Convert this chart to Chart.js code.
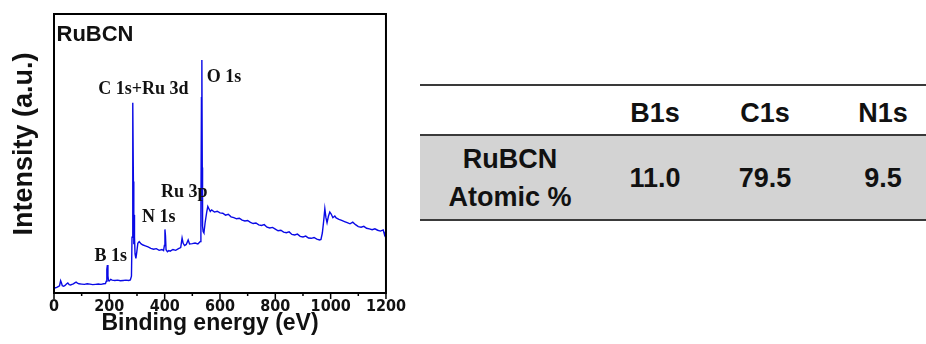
<!DOCTYPE html>
<html>
<head>
<meta charset="utf-8">
<script src="https://cdn.jsdelivr.net/npm/chart.js@4.4.0/dist/chart.umd.min.js"></script>
<style>
  html, body { margin: 0; padding: 0; background: #fff; overflow: hidden; }
  body { width: 926px; height: 344px; position: relative; }
  #plot { position: absolute; left: 0; top: 0; width: 410px; height: 344px; }
  #atomic { position: absolute; left: 420px; top: 84px; width: 526px;
    font-family: "Liberation Sans", Arial, sans-serif; font-weight: bold; font-size: 27px; color: #111; }
  #atomic .row { display: flex; }
  #atomic .head { border-top: 2px solid #3a3a3a; border-bottom: 2px solid #3a3a3a; height: 48px; }
  #atomic .body { background: #d3d3d3; border-bottom: 2px solid #3a3a3a; height: 83px; }
  #atomic .c { display: flex; align-items: center; justify-content: center; text-align: center; width: 110px; line-height: 38px; }
  #atomic .head .c { padding-top: 5px; }
  #atomic .c.first { width: 180px; }
  #atomic .c.last { width: 126px; }
</style>
</head>
<body>
<div id="plot"><canvas id="xpsChart"></canvas></div>
<div id="atomic"></div>
<script>
// survey spectrum: binding energy (eV) vs intensity (a.u.)
var energy = [0, 5, 10, 15, 20, 24, 27, 30, 35, 40, 45, 50, 55, 60, 65, 70, 75, 80, 85, 90,
  100, 110, 120, 130, 140, 150, 160, 170, 180, 186, 189, 191, 193, 195, 197, 200, 205, 210,
  220, 230, 240, 250, 260, 270, 276, 280, 282, 284, 285.5, 287, 288, 289, 290, 291, 293, 296,
  299, 303, 308, 315, 322, 330, 340, 350, 360, 370, 380, 390, 396, 399, 401, 403, 405, 410,
  415, 420, 430, 440, 450, 458, 463, 467, 472, 478, 485, 490, 500, 510, 520, 528, 531, 533,
  534.5, 536, 537, 539, 542, 546, 552, 556, 560, 565, 570, 575, 580, 590, 600, 610, 620, 630,
  640, 650, 660, 670, 680, 690, 700, 710, 720, 730, 740, 750, 760, 770, 780, 790, 800, 810,
  820, 830, 840, 850, 860, 870, 880, 890, 900, 910, 920, 930, 940, 950, 960, 965, 970, 975,
  979, 983, 987, 992, 997, 1002, 1008, 1015, 1020, 1030, 1040, 1050, 1060, 1070, 1080, 1090,
  1100, 1110, 1120, 1130, 1140, 1150, 1160, 1170, 1180, 1190, 1195, 1200];
var intensity = [1.6, 1.9, 2.0, 2.3, 2.6, 4.4, 3.6, 2.6, 2.4, 2.7, 3.2, 3.6, 3.0, 2.9, 3.1, 3.3, 3.6, 3.9, 3.5, 3.3,
  3.2, 3.1, 3.3, 3.2, 3.0, 3.1, 3.2, 3.1, 3.3, 3.4, 4.2, 8.5, 10.0, 6.2, 4.4, 4.3, 4.9, 4.6,
  4.5, 4.6, 4.4, 4.5, 4.6, 4.5, 4.7, 6.0, 20, 60, 68.2, 40, 18, 17.5, 28, 20, 14, 12.4,
  14.5, 17.8, 18.4, 17.6, 17.2, 16.9, 16.5, 16.0, 15.7, 15.9, 15.3, 15.6, 15.2, 17.0, 22.8, 20.5, 15.5, 14.8,
  15.2, 15.0, 15.6, 15.3, 15.9, 16.3, 19.7, 17.8, 17.0, 17.4, 19.0, 17.6, 17.7, 17.9, 17.6, 18.4, 28, 70,
  83.5, 45, 24, 22, 21.5, 25, 29, 31.0, 30.2, 29.2, 29.8, 29.4, 29.0, 29.3, 28.7, 28.6, 27.9, 28.2,
  27.3, 27.0, 26.6, 26.8, 26.1, 25.8, 26.0, 25.3, 24.9, 25.1, 24.4, 24.2, 24.5, 23.6, 23.3, 23.5, 22.9, 22.3,
  22.5, 21.8, 21.6, 21.9, 21.0, 20.8, 21.1, 20.3, 20.1, 20.4, 19.7, 19.6, 19.9, 19.3, 19.0, 19.2, 21.5, 26,
  30.2, 27.0, 25.2, 27.5, 29.0, 28.3, 27.0, 27.6, 26.9, 26.4, 26.0, 25.6, 25.2, 24.8, 25.4, 24.5,
  23.8, 23.6, 23.9, 23.2, 23.0, 22.7, 23.0, 22.5, 22.2, 22.6, 20.8, 22.4];

var xTicks = [0, 200, 400, 600, 800, 1000, 1200];

// atomic composition table
var elements = ['B1s', 'C1s', 'N1s'];
var atomicPct = ['11.0', '79.5', '9.5'];

// peak labels, anchored in data coordinates (left edge, baseline)
var peakLabels = [
  { text: 'RuBCN', x: 9, y: 90.3, font: 'bold 22px "Liberation Sans", Arial, sans-serif' },
  { text: 'C 1s+Ru 3d', x: 160, y: 71.3 },
  { text: 'O 1s', x: 552, y: 75.6 },
  { text: 'Ru 3p', x: 387, y: 34.4 },
  { text: 'N 1s', x: 318, y: 25.4 },
  { text: 'B 1s', x: 146, y: 11.5 }
];

var framePlugin = {
  id: 'frame',
  afterDatasetsDraw: function (chart) {
    var ctx = chart.ctx;
    var a = chart.chartArea;
    var xs = chart.scales.x;
    var ys = chart.scales.y;
    ctx.save();

    // peak labels
    ctx.fillStyle = '#111';
    ctx.textAlign = 'left';
    ctx.textBaseline = 'alphabetic';
    peakLabels.forEach(function (l) {
      ctx.font = l.font || 'bold 18px "Liberation Serif", "Times New Roman", serif';
      ctx.fillText(l.text, xs.getPixelForValue(l.x), ys.getPixelForValue(l.y));
    });

    // box
    ctx.strokeStyle = '#000';
    ctx.lineWidth = 2;
    ctx.strokeRect(a.left, a.top, a.right - a.left, a.bottom - a.top);

    // outward ticks, longer on labelled values
    ctx.lineWidth = 1.5;
    xs.ticks.forEach(function (t) {
      var px = xs.getPixelForValue(t.value);
      var len = xTicks.indexOf(t.value) >= 0 ? 6 : 3;
      ctx.beginPath();
      ctx.moveTo(px, a.bottom);
      ctx.lineTo(px, a.bottom + len);
      ctx.stroke();
    });

    // axis titles
    ctx.fillStyle = '#111';
    ctx.font = 'bold 23px "Liberation Sans", Arial, sans-serif';
    ctx.textAlign = 'center';
    ctx.fillText('Binding energy (eV)', 210, 330);
    ctx.translate(32, 144);
    ctx.rotate(-Math.PI / 2);
    ctx.font = 'bold 27px "Liberation Sans", Arial, sans-serif';
    ctx.fillText('Intensity (a.u.)', 0, 0);
    ctx.restore();
  }
};

var points = energy.map(function (e, i) { return { x: e, y: intensity[i] }; });

new Chart(document.getElementById('xpsChart'), {
  type: 'line',
  data: {
    datasets: [{
      data: points,
      borderColor: '#0a0ae6',
      borderWidth: 1.4,
      pointRadius: 0,
      tension: 0,
      fill: false
    }]
  },
  options: {
    responsive: true,
    maintainAspectRatio: false,
    animation: false,
    events: [],
    layout: { padding: { top: 14, right: 22, left: 0, bottom: 0 } },
    scales: {
      x: {
        type: 'linear',
        min: 0,
        max: 1200,
        afterFit: function (s) { s.height = 51; },
        grid: { display: false, drawTicks: false },
        border: { display: false },
        ticks: {
          stepSize: 100,
          autoSkip: false,
          maxRotation: 0,
          padding: 4,
          color: '#111',
          font: { family: '"DejaVu Sans Condensed", "Liberation Sans", Arial, sans-serif', weight: 'bold', size: 16 },
          callback: function (v) { return xTicks.indexOf(v) >= 0 ? String(v) : ''; }
        }
      },
      y: {
        min: 0,
        max: 100,
        afterFit: function (s) { s.width = 54; },
        grid: { display: false, drawTicks: false },
        border: { display: false },
        ticks: { display: false }
      }
    },
    plugins: {
      legend: { display: false },
      tooltip: { enabled: false }
    }
  },
  plugins: [framePlugin]
});

// table
var tbl = document.getElementById('atomic');
var head = '<div class="row head"><div class="c first"></div>';
var body = '<div class="row body"><div class="c first">RuBCN<br>Atomic %</div>';
elements.forEach(function (el, i) {
  var cls = i === elements.length - 1 ? 'c last' : 'c';
  head += '<div class="' + cls + '">' + el + '</div>';
  body += '<div class="' + cls + '">' + atomicPct[i] + '</div>';
});
tbl.innerHTML = head + '</div>' + body + '</div>';
</script>
</body>
</html>
